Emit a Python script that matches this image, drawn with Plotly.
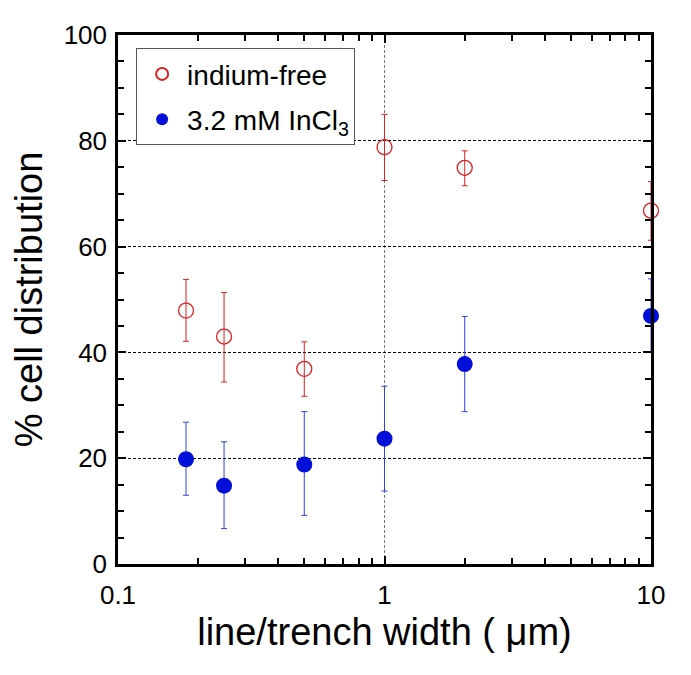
import plotly.graph_objects as go

widths = [0.18, 0.25, 0.5, 1, 2, 10]

free_y = [47.9, 43.0, 36.9, 78.8, 74.9, 66.8]
free_up = [5.9, 8.3, 5.1, 6.2, 3.2, 5.5]
free_dn = [5.8, 8.6, 5.2, 6.3, 3.4, 5.6]

incl_y = [19.8, 14.8, 18.8, 23.7, 37.8, 46.9]
incl_up = [7.0, 8.3, 10.0, 9.9, 9.0, 7.0]
incl_dn = [6.8, 8.1, 9.6, 9.9, 9.0, 6.8]

x_ticks = [0.1, 1, 10]
x_tick_text = ["0.1", "1", "10"]
x_minor = [0.2, 0.3, 0.4, 0.5, 0.6, 0.7, 0.8, 0.9, 2, 3, 4, 5, 6, 7, 8, 9]

FONT = "Liberation Sans, Arial, sans-serif"
RED = "#dc1f1f"
BLUE = "#0010d8"

fig = go.Figure()
fig.add_trace(go.Scatter(
    x=widths, y=free_y, mode="markers", name="indium-free", cliponaxis=False,
    legendgroup="a",
    marker=dict(symbol="circle-open", size=15, color=RED, line=dict(width=1.3, color=RED)),
    error_y=dict(type="data", symmetric=False, array=free_up, arrayminus=free_dn,
                 color=RED, thickness=1, width=3),
))
fig.add_trace(go.Scatter(
    x=widths, y=incl_y, mode="markers", name="3.2 mM InCl<sub>3</sub>", cliponaxis=False,
    legendgroup="b",
    marker=dict(symbol="circle", size=16, color=BLUE),
    error_y=dict(type="data", symmetric=False, array=incl_up, arrayminus=incl_dn,
                 color="#3040e0", thickness=1, width=3),
))

fig.update_layout(
    width=691, height=675,
    margin=dict(l=110, r=48, t=22, b=119),
    plot_bgcolor="white", paper_bgcolor="white",
    font=dict(family=FONT, color="black"),
    showlegend=True,
    legend=dict(
        x=0.034, y=0.975, xanchor="left", yanchor="top",
        bgcolor="white", bordercolor="#555555", borderwidth=1,
        font=dict(size=28, family=FONT),
        itemsizing="constant", itemwidth=40,
        traceorder="grouped", tracegroupgap=6,
    ),
)
fig.update_xaxes(
    type="log", range=[-1, 1],
    tickmode="array", tickvals=x_ticks, ticktext=x_tick_text,
    ticks="inside", ticklen=8, tickwidth=2, tickcolor="black",
    showline=True, linecolor="black", linewidth=2.5, mirror="ticks",
    showgrid=True, gridcolor="#777777", griddash="3px,2px", gridwidth=1,
    zeroline=False, ticklabelstandoff=6,
    tickfont=dict(size=26, family=FONT),
    minor=dict(tickmode="array", tickvals=x_minor, ticks="inside", ticklen=6,
               tickwidth=2, tickcolor="black", showgrid=False),
    title=dict(text="line/trench width ( μm)", font=dict(size=38, family=FONT), standoff=10),
)
fig.update_yaxes(
    range=[0, 100], tickmode="linear", tick0=0, dtick=20,
    ticks="inside", ticklen=8, tickwidth=2, tickcolor="black",
    showline=True, linecolor="black", linewidth=2.5, mirror="ticks",
    showgrid=True, gridcolor="black", griddash="3px,2px", gridwidth=1,
    zeroline=False, ticklabelstandoff=3,
    tickfont=dict(size=26, family=FONT),
    minor=dict(dtick=5, tick0=0, ticks="inside", ticklen=6, tickwidth=2,
               tickcolor="black", showgrid=False),
    title=dict(text="% cell distribution", font=dict(size=38, family=FONT), standoff=14),
)

fig.write_html("out.html")
